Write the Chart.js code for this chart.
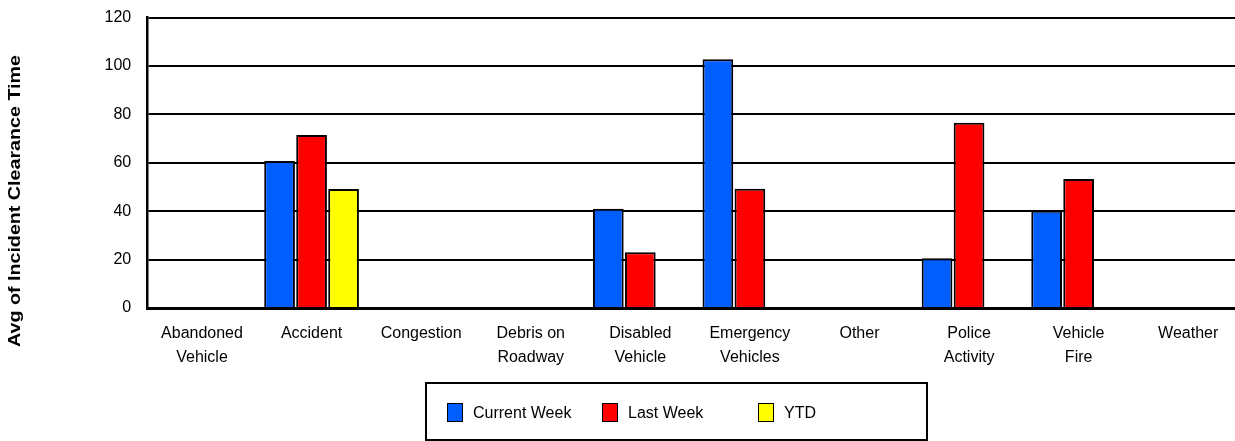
<!DOCTYPE html>
<html>
<head>
<meta charset="utf-8">
<script src="https://cdn.jsdelivr.net/npm/chart.js@4"></script>
<style>
  body { margin: 0; overflow: hidden; background: #fff; font-family: "Liberation Sans", Arial, sans-serif; }
  #wrap { position: relative; width: 1235px; height: 441px; overflow: hidden; }
  #grafico { position: absolute; left: 0; top: -8px; }
  #legenda { position: absolute; left: 425px; top: 382px; width: 499px; height: 55px; border: 2px solid #000; box-sizing: content-box; }
  .item { position: absolute; top: 19px; height: 19px; font-size: 16px; line-height: 19px; color: #000; }
  .item span.box { position: absolute; left: 0; top: 0; width: 14px; height: 17px; border: 1.5px solid #000; }
  .item span.txt { position: absolute; left: 26px; top: 0; white-space: nowrap; }
</style>
</head>
<body>
<div id="wrap">
  <canvas id="grafico" width="1245" height="449"></canvas>
  <div id="legenda"></div>
</div>
<script>
// Dados do gráfico
const categorias = [['Abandoned', 'Vehicle'], 'Accident', 'Congestion', ['Debris on', 'Roadway'], ['Disabled', 'Vehicle'],
  ['Emergency', 'Vehicles'], 'Other', ['Police', 'Activity'], ['Vehicle', 'Fire'], 'Weather'];
const semanaAtual = [null, 60.7, null, null, 41, 102.8, null, 20.6, 40.2, null];
const semanaPassada = [null, 71.5, null, null, 23, 49.3, null, 76.5, 53.3, null];
const ytd = [null, 49.2, null, null, null, null, null, null, null, null];
const nomesSeries = ['Current Week', 'Last Week', 'YTD'];
const coresSeries = ['#005EFF', '#FF0000', '#FFFF00'];
const ticksY = [0, 20, 40, 60, 80, 100, 120];
const tituloY = 'Avg of Incident Clearance Time';

// título do eixo Y (um pouco esticado como no original)
const tituloEixo = {
  id: 'tituloEixo',
  afterDraw(chart) {
    const c = chart.ctx;
    c.save();
    c.translate(16, 209);
    c.rotate(-Math.PI / 2);
    c.scale(1.23, 1);
    c.font = 'bold 16px "Liberation Sans", Arial, sans-serif';
    c.fillStyle = '#000';
    c.textAlign = 'center';
    c.textBaseline = 'middle';
    c.fillText(tituloY, 0, 0);
    c.restore();
  }
};

const ctx = document.getElementById('grafico').getContext('2d');
const grafico = new Chart(ctx, {
  type: 'bar',
  data: {
    labels: categorias,
    datasets: [semanaAtual, semanaPassada, ytd].map((d, i) => ({
      label: nomesSeries[i],
      data: d,
      backgroundColor: coresSeries[i],
      borderColor: '#000',
      borderWidth: 2,
      categoryPercentage: 0.876,
      barPercentage: 0.96
    }))
  },
  options: {
    responsive: false,
    animation: false,
    layout: { padding: { left: 88.5, top: 9, right: 2, bottom: 57 } },
    scales: {
      y: {
        min: 0,
        max: 120,
        afterBuildTicks: (s) => { s.ticks = ticksY.map(v => ({ value: v })); },
        ticks: {
          color: '#000',
          padding: 16,
          font: { family: '"Liberation Sans", Arial, sans-serif', size: 16 }
        },
        grid: { color: '#000', lineWidth: 2, drawTicks: false },
        border: { color: '#000', width: 2.5 }
      },
      x: {
        ticks: {
          color: '#000',
          padding: 14,
          maxRotation: 0,
          autoSkip: false,
          font: { family: '"Liberation Sans", Arial, sans-serif', size: 16, lineHeight: 1.5 }
        },
        grid: { display: false, drawTicks: false },
        border: { color: '#000', width: 3 }
      }
    },
    plugins: {
      legend: { display: false },
      tooltip: { enabled: false }
    }
  },
  plugins: [tituloEixo]
});

// Legenda em caixa
const posLegenda = [20, 175, 331];
const legenda = document.getElementById('legenda');
nomesSeries.forEach((n, i) => {
  const it = document.createElement('div');
  it.className = 'item';
  it.style.left = posLegenda[i] + 'px';
  it.innerHTML = '<span class="box" style="background:' + coresSeries[i] + '"></span><span class="txt">' + n + '</span>';
  legenda.appendChild(it);
});
</script>
</body>
</html>
